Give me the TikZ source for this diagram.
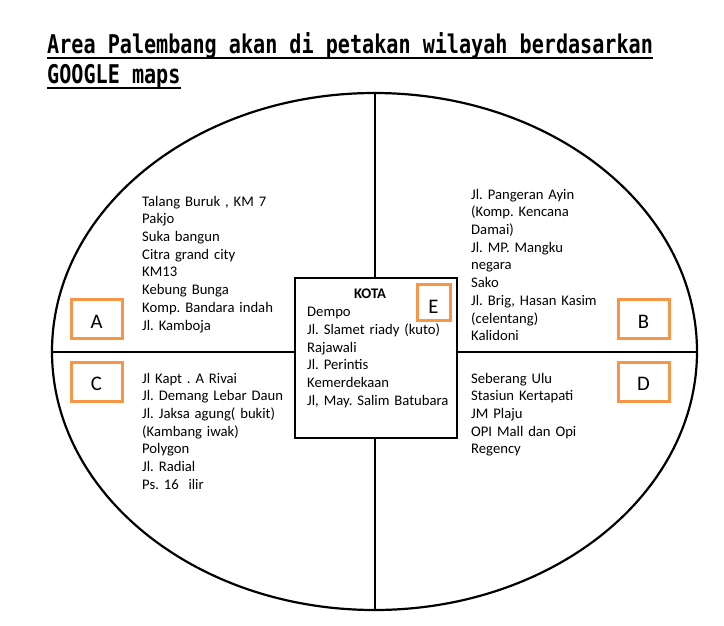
\documentclass[tikz,border=0pt]{standalone}
\usepackage{fontspec}
\setmainfont{Carlito}
\newfontfamily\titlefont[FakeStretch=0.78]{DejaVu Sans Mono Bold}
\usetikzlibrary{shapes.geometric,calc}
\definecolor{boxorange}{HTML}{F79646}
\frenchspacing
\tikzset{
  lineto/.style={line width=2pt, draw=black},
  titletext/.style={anchor=base west, inner sep=0pt, font=\titlefont\fontsize{25.8}{30}\selectfont},
  uline/.style={line width=2pt},
  listtext/.style={anchor=base west, inner sep=0pt, text width=220pt, align=left,
                   font=\frenchspacing\fontsize{14.67}{17.72}\selectfont},
  letterbox/.style={draw=boxorange, line width=3pt, minimum width=51pt, minimum height=39pt, inner sep=0pt},
  lettertext/.style={anchor=base, inner sep=0pt, font=\fontsize{20.7}{24}\selectfont},
}
\begin{document}
\begin{tikzpicture}[x=1pt,y=-1pt]
\useasboundingbox (0,0) rectangle (724,625);
% title
\node[titletext] (t1) at (47,53) {Area Palembang akan di petakan wilayah berdasarkan};
\node[titletext] (t2) at (47,83) {GOOGLE maps};
\draw[uline] ([yshift=-4.5pt]t1.base west) -- ([yshift=-4.5pt]t1.base east);
\draw[uline] ([yshift=-5pt]t2.base west) -- ([yshift=-5pt]t2.base east);
% map ellipse
\node[ellipse, draw, line width=2.2pt, minimum width=645pt, minimum height=517pt, inner sep=0pt] (map) at (374.5,351.5) {};
% central box
\node[draw, line width=2.5pt, fill=white, minimum width=162pt, minimum height=160pt, inner sep=0pt] (kota) at (376,358) {};
\draw[lineto] (map.north) -- (map.north |- kota.north);
\draw[lineto] (map.south |- kota.south) -- (map.south);
\draw[lineto] (map.west) -- (map.west -| kota.west);
\draw[lineto] (map.east -| kota.east) -- (map.east);
% lists
\node[listtext] (la) at (142,206) {Talang Buruk , KM 7\\Pakjo\\Suka bangun\\Citra grand city\\KM13\\Kebung Bunga\\Komp. Bandara indah\\Jl. Kamboja};
\node[listtext] (lc) at (142,383) {Jl Kapt . A Rivai\\Jl. Demang Lebar Daun\\Jl. Jaksa agung( bukit)\\(Kambang iwak)\\Polygon\\Jl. Radial\\Ps. 16\ \ ilir};
\node[listtext] (lb) at (471,199) {Jl. Pangeran Ayin\\(Komp. Kencana\\Damai)\\Jl. MP. Mangku\\negara\\Sako\\Jl. Brig, Hasan Kasim\\(celentang)\\Kalidoni};
\node[listtext] (ld) at (471,383) {Seberang Ulu\\Stasiun Kertapati\\JM Plaju\\OPI Mall dan Opi\\Regency};
\node[anchor=base, inner sep=0pt, font=\fontsize{14.67}{17.72}\selectfont\bfseries] (kt) at (370,298) {KOTA};
\node[listtext] (le) at (307,316.7) {Dempo\\Jl. Slamet riady (kuto)\\Rajawali\\Jl. Perintis\\Kemerdekaan\\Jl, May. Salim Batubara};
% letter boxes
\node[letterbox] (ba) at (96.5,318.5) {};
\node[lettertext] (xa) at ([yshift=-10.2pt]ba.center) {A};
\node[letterbox] (bc) at (96.5,381.5) {};
\node[lettertext] (xc) at ([yshift=-9pt]bc.center) {C};
\node[letterbox] (bb) at (643.5,318.5) {};
\node[lettertext] (xb) at ([yshift=-10pt]bb.center) {B};
\node[letterbox] (bd) at (643.5,381.5) {};
\node[lettertext] (xd) at ([yshift=-8.5pt]bd.center) {D};
\node[letterbox, minimum width=33pt, minimum height=36pt] (be) at (433.5,302) {};
\node[lettertext] (xe) at ([yshift=-11.7pt]be.center) {E};
\end{tikzpicture}
\end{document}
